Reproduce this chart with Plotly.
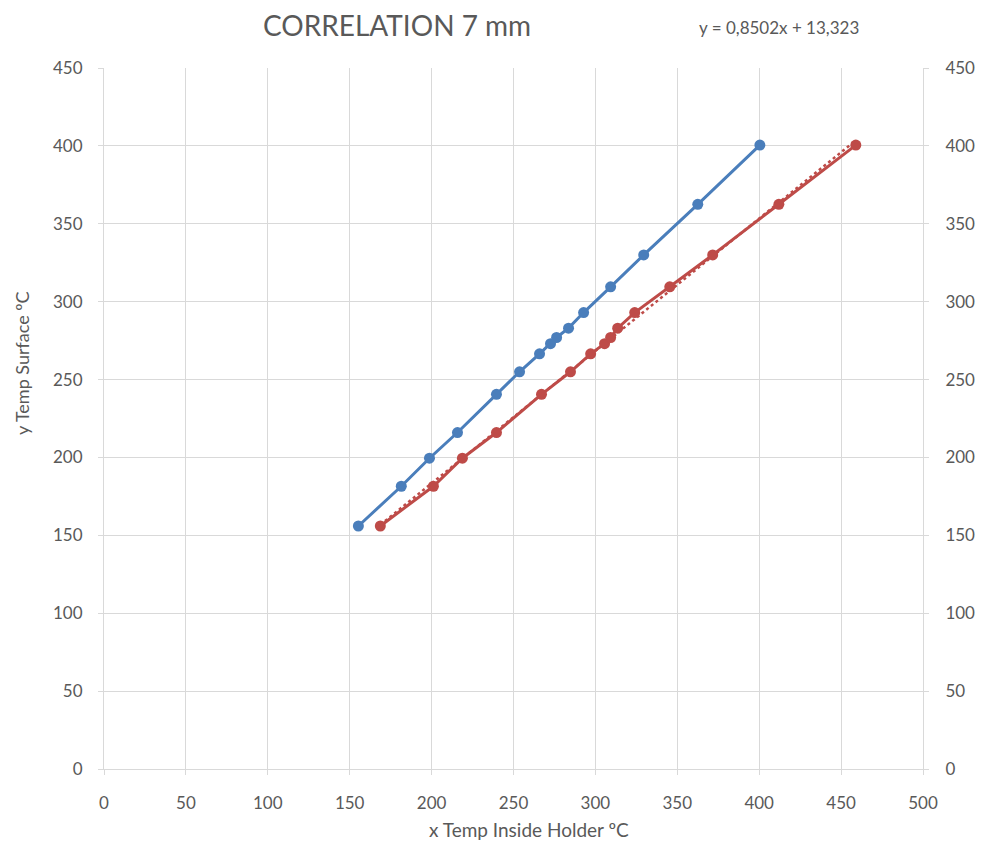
import plotly.graph_objects as go

# Data
surface_y = [156, 181.5, 199.5, 216, 240.5, 255, 266.5, 273, 277, 283, 293, 309.5, 330, 362.5, 400.5]
blue_x = [155.3, 181.5, 198.7, 215.8, 239.6, 253.7, 265.9, 272.6, 276.3, 283.6, 292.8, 309.3, 329.5, 362.5, 400.4]
red_x = [168.7, 201.1, 218.8, 239.6, 267.1, 284.8, 297.1, 305.6, 309.3, 313.6, 324.0, 345.4, 371.6, 412.0, 459.0]

trend_slope = 0.8502
trend_intercept = 13.323
trend_x = [min(red_x), max(red_x)]
trend_y = [trend_slope * v + trend_intercept for v in trend_x]

x_ticks = list(range(0, 501, 50))
y_ticks = list(range(0, 451, 50))

BLUE = "#4A7EBB"
RED = "#BE4B48"
GRID = "#D9D9D9"
TXT = "#595959"
FONT = "Lato"

W, H = 982, 847
L, R, T, B = 104, 59, 68, 78
PW, PH = W - L - R, H - T - B


def px_x(x):
    return (x - L) / PW


def px_y(y):
    return (H - B - y) / PH


fig = go.Figure()
fig.add_trace(go.Scatter(x=trend_x, y=trend_y, mode="lines",
                         line=dict(color=RED, width=2.5, dash="dot"), showlegend=False))
fig.add_trace(go.Scatter(x=blue_x, y=surface_y, mode="lines+markers",
                         line=dict(color=BLUE, width=3), marker=dict(color=BLUE, size=11),
                         showlegend=False))
fig.add_trace(go.Scatter(x=red_x, y=surface_y, mode="lines+markers",
                         line=dict(color=RED, width=3), marker=dict(color=RED, size=11),
                         showlegend=False))
fig.add_trace(go.Scatter(x=[None], y=[None], yaxis="y2", showlegend=False))

tickfont = dict(family=FONT, size=17, color=TXT)
axis_common = dict(showgrid=True, gridcolor=GRID, gridwidth=1, zeroline=False,
                   showline=True, linecolor=GRID, linewidth=1, automargin=False,
                   ticks="outside", ticklen=5, tickcolor=GRID, tickfont=tickfont)

fig.update_layout(
    width=W, height=H,
    margin=dict(l=L, r=R, t=T, b=B, autoexpand=False),
    paper_bgcolor="white", plot_bgcolor="white",
    font=dict(family=FONT, color=TXT),
    xaxis=dict(range=[0, 500], tickvals=x_ticks, ticklabelstandoff=14, **axis_common),
    yaxis=dict(range=[0, 450], tickvals=y_ticks, ticklabelstandoff=12, **axis_common),
    yaxis2=dict(range=[0, 450], tickvals=y_ticks, overlaying="y", side="right", showgrid=False,
                zeroline=False, showline=True, linecolor=GRID, linewidth=1, ticks="outside",
                automargin=False, ticklen=5, tickcolor=GRID, tickfont=tickfont,
                ticklabelstandoff=13),
    annotations=[
        dict(text="CORRELATION 7 mm", xref="paper", yref="paper", x=px_x(397), y=px_y(25),
             xanchor="center", yanchor="middle", showarrow=False,
             font=dict(family=FONT, size=28, color=TXT)),
        dict(text="y = 0,8502x + 13,323", xref="paper", yref="paper", x=px_x(779), y=px_y(28),
             xanchor="center", yanchor="middle", showarrow=False,
             font=dict(family=FONT, size=17, color=TXT)),
        dict(text="x Temp Inside Holder ºC", xref="paper", yref="paper", x=px_x(529), y=px_y(829),
             xanchor="center", yanchor="middle", showarrow=False,
             font=dict(family=FONT, size=19, color=TXT)),
        dict(text="y Temp Surface ºC", xref="paper", yref="paper", x=px_x(22), y=px_y(363),
             xanchor="center", yanchor="middle", showarrow=False, textangle=-90,
             font=dict(family=FONT, size=18, color=TXT)),
    ],
)

fig.write_html("out.html")
